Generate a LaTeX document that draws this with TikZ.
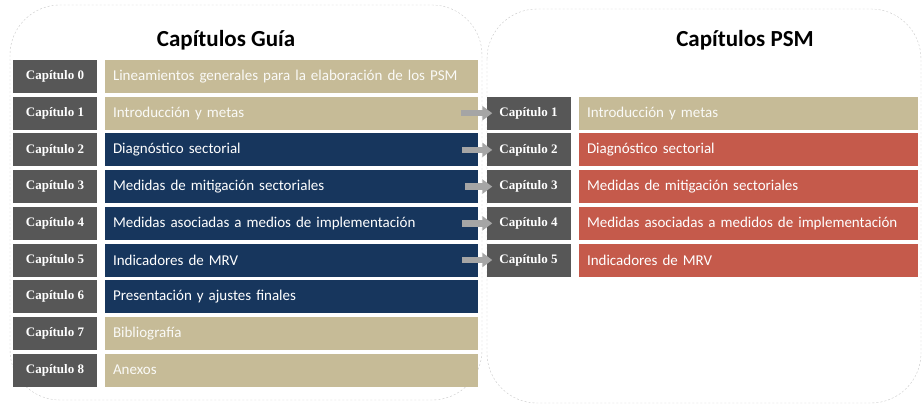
\documentclass[tikz,border=0pt]{standalone}
\usepackage{fontspec}
\setmainfont{Carlito}
\newfontfamily\capfont{Liberation Serif}
\usepackage{tikz}
\usetikzlibrary{arrows.meta}
\definecolor{gris}{HTML}{575757}
\definecolor{grisclair}{HTML}{C8C8C8}
\definecolor{flecha}{HTML}{A5A5A5}
\definecolor{cbeige}{HTML}{C6BB97}
\definecolor{cmarine}{HTML}{17365D}
\definecolor{crouge}{HTML}{C55A4B}

\begin{document}
\begin{tikzpicture}[x=1pt, y=-1pt, >={Triangle[width=14pt,length=10pt]}]
  \tikzstyle{capbox}=[rectangle, minimum width=84pt, minimum height=33pt, inner sep=0pt, fill=gris, text=white, font=\capfont\bfseries\fontsize{13}{14}\selectfont]
  \tikzstyle{barg}=[rectangle, minimum height=33pt, text width=357pt, inner xsep=8pt, inner ysep=0pt, align=left, font=\fontsize{15}{17}\selectfont]
  \tikzstyle{barp}=[barg, text width=323pt]
  \tikzstyle{titre}=[font=\bfseries\fontsize{23}{25}\selectfont]
  \tikzstyle{panneau}=[draw=grisclair, dash pattern=on 2pt off 2pt, rounded corners=50pt]
  \tikzstyle{fl}=[->, draw=flecha, line width=6.5pt]

	\useasboundingbox (0,0) rectangle (923,404);

	\draw[panneau] (10,5) rectangle (482,400);
	\draw[panneau] (487,9) rectangle (921,403);

	\node[titre] (TG) at (226,40) {Capítulos Guía};
	\node[titre] (TP) at (745,40) {Capítulos PSM};

	% capitulos guia
	\node[capbox] (G0) at (55,76.5)  {Capítulo 0};
	\node[capbox] (G1) at (55,113.2) {Capítulo 1};
	\node[capbox] (G2) at (55,149.9) {Capítulo 2};
	\node[capbox] (G3) at (55,186.6) {Capítulo 3};
	\node[capbox] (G4) at (55,223.3) {Capítulo 4};
	\node[capbox] (G5) at (55,260)   {Capítulo 5};
	\node[capbox] (G6) at (55,296.7) {Capítulo 6};
	\node[capbox] (G7) at (55,333.4) {Capítulo 7};
	\node[capbox] (G8) at (55,370.1) {Capítulo 8};

	\node[barg, fill=cbeige, text=white!92!cbeige]  (B0) at (291.5,76.5)  {Lineamientos generales para la elaboración de los PSM};
	\node[barg, fill=cbeige, text=white!92!cbeige]  (B1) at (291.5,113.2) {Introducción y metas};
	\node[barg, fill=cmarine, text=white] (B2) at (291.5,149.9) {Diagnóstico sectorial};
	\node[barg, fill=cmarine, text=white] (B3) at (291.5,186.6) {Medidas de mitigación sectoriales};
	\node[barg, fill=cmarine, text=white] (B4) at (291.5,223.3) {Medidas asociadas a medios de implementación};
	\node[barg, fill=cmarine, text=white] (B5) at (291.5,260)   {Indicadores de MRV};
	\node[barg, fill=cmarine, text=white] (B6) at (291.5,296.7) {Presentación y ajustes finales};
	\node[barg, fill=cbeige, text=white!92!cbeige]  (B7) at (291.5,333.4) {Bibliografía};
	\node[barg, fill=cbeige, text=white!92!cbeige]  (B8) at (291.5,370.1) {Anexos};

	% capitulos psm
	\node[capbox] (P1) at (528.5,113.2) {Capítulo 1};
	\node[capbox] (P2) at (528.5,149.9) {Capítulo 2};
	\node[capbox] (P3) at (528.5,186.6) {Capítulo 3};
	\node[capbox] (P4) at (528.5,223.3) {Capítulo 4};
	\node[capbox] (P5) at (528.5,260)   {Capítulo 5};

	\node[barp, fill=cbeige, text=white!92!cbeige] (R1) at (748.5,113.2) {Introducción y metas};
	\node[barp, fill=crouge, text=white] (R2) at (748.5,149.9) {Diagnóstico sectorial};
	\node[barp, fill=crouge, text=white] (R3) at (748.5,186.6) {Medidas de mitigación sectoriales};
	\node[barp, fill=crouge, text=white] (R4) at (748.5,223.3) {Medidas asociadas a medidos de implementación};
	\node[barp, fill=crouge, text=white] (R5) at (748.5,260)   {Indicadores de MRV};

	\path
		([xshift=-17pt]B1.east) edge [fl] ([xshift=6pt]P1.west)
		([xshift=-16pt]B2.east) edge [fl] ([xshift=6pt]P2.west)
		([xshift=-13pt]B3.east) edge [fl] ([xshift=6pt]P3.west)
		([xshift=-16pt]B4.east) edge [fl] ([xshift=6pt]P4.west)
		([xshift=-16pt]B5.east) edge [fl] ([xshift=6pt]P5.west)
		;

\end{tikzpicture}
\end{document}
